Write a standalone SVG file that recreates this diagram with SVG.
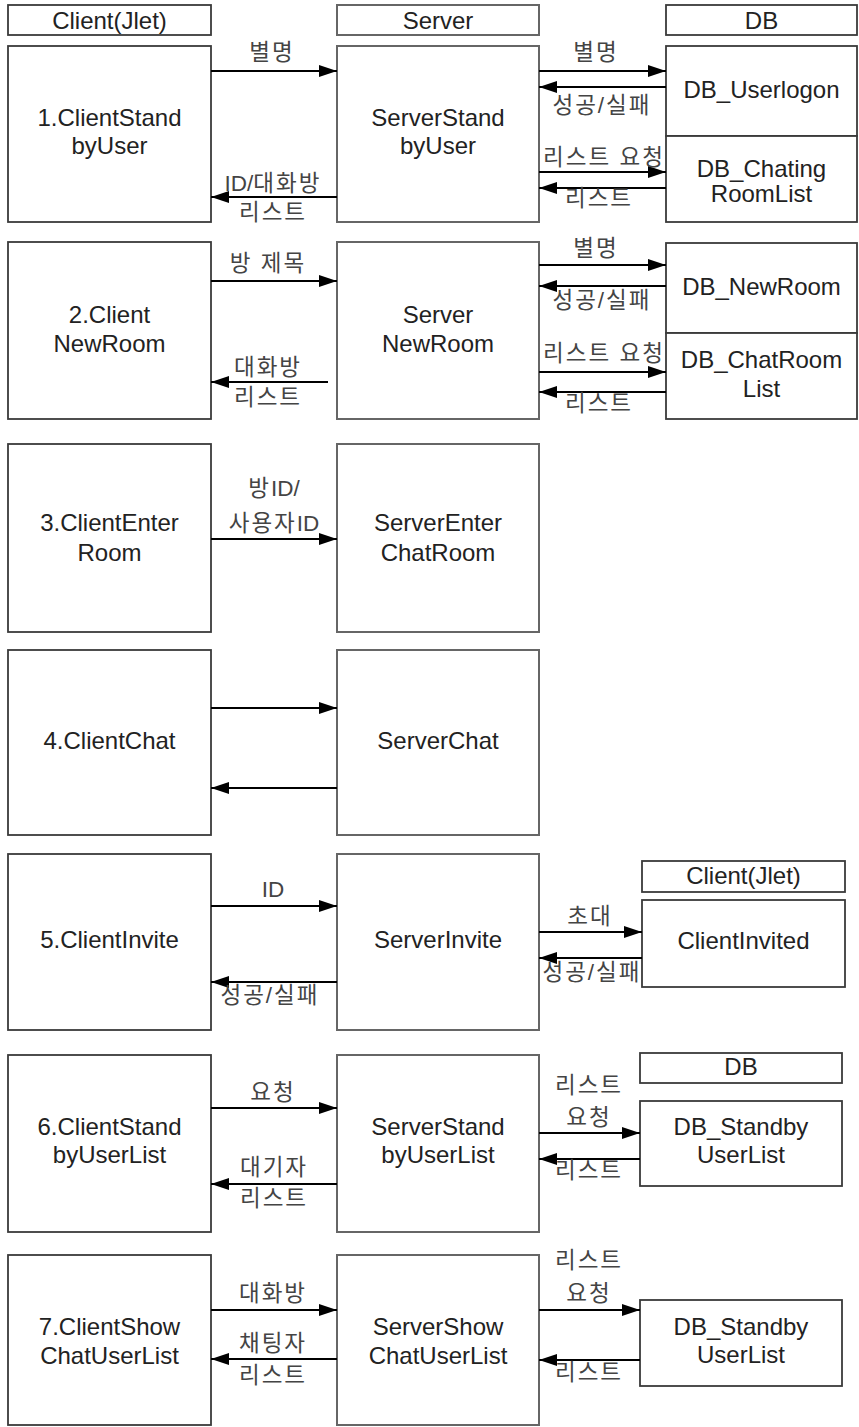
<svg xmlns="http://www.w3.org/2000/svg" width="859" height="1427" viewBox="0 0 859 1427">
  <style>
    .box { fill: #ffffff; stroke: #3a3a3a; stroke-width: 1.8; }
    .srv { fill: #ffffff; stroke: #666666; stroke-width: 2; }
    .name { font-family: "Liberation Sans", Arial, sans-serif; font-size: 24px; fill: #222222; text-anchor: middle; }
    .lbl { font-family: "Liberation Sans", "Noto Sans CJK KR", sans-serif; font-size: 22.5px; letter-spacing: 2px; fill: #444444; text-anchor: middle; }
    .lat { letter-spacing: 0; }
    .flow { stroke: #000000; stroke-width: 2; fill: none; marker-end: url(#head); }
  </style>
  <defs>
    <marker id="head" markerUnits="userSpaceOnUse" markerWidth="18" markerHeight="12" refX="18" refY="6" orient="auto">
      <path d="M0,0 L18,6 L0,12 Z" fill="#000000"/>
    </marker>
  </defs>
  <rect x="0" y="0" width="859" height="1427" fill="#ffffff"/>

  <!-- column headers -->
  <g id="hdr-client">
    <rect class="box" x="8" y="5" width="203" height="30"/>
    <text class="name" x="109.5" y="29">Client(Jlet)</text>
  </g>
  <g id="hdr-server">
    <rect class="srv" x="337" y="5" width="202" height="30"/>
    <text class="name" x="438" y="29">Server</text>
  </g>
  <g id="hdr-db">
    <rect class="box" x="666" y="5" width="191" height="30"/>
    <text class="name" x="761.5" y="29">DB</text>
  </g>

  <!-- row 1 -->
  <g id="client-standby-user">
    <rect class="box" x="8" y="46" width="203" height="176"/>
    <text class="name" x="109.5" y="126">1.ClientStand</text>
    <text class="name" x="109.5" y="154">byUser</text>
  </g>
  <g id="server-standby-user">
    <rect class="srv" x="337" y="46" width="202" height="176"/>
    <text class="name" x="438" y="126">ServerStand</text>
    <text class="name" x="438" y="154">byUser</text>
  </g>
  <g id="db-userlogon">
    <rect class="box" x="666" y="46" width="191" height="90"/>
    <text class="name" x="761.5" y="98">DB_Userlogon</text>
  </g>
  <g id="db-chatingroomlist">
    <rect class="box" x="666" y="136" width="191" height="86"/>
    <text class="name" x="761.5" y="177">DB_Chating</text>
    <text class="name" x="761.5" y="202">RoomList</text>
  </g>

  <!-- row 2 -->
  <g id="client-newroom">
    <rect class="box" x="8" y="242" width="203" height="177"/>
    <text class="name" x="109.5" y="323">2.Client</text>
    <text class="name" x="109.5" y="352">NewRoom</text>
  </g>
  <g id="server-newroom">
    <rect class="srv" x="337" y="242" width="202" height="177"/>
    <text class="name" x="438" y="323">Server</text>
    <text class="name" x="438" y="352">NewRoom</text>
  </g>
  <g id="db-newroom">
    <rect class="box" x="666" y="243" width="191" height="90"/>
    <text class="name" x="761.5" y="295">DB_NewRoom</text>
  </g>
  <g id="db-chatroomlist">
    <rect class="box" x="666" y="333" width="191" height="86"/>
    <text class="name" x="761.5" y="368">DB_ChatRoom</text>
    <text class="name" x="761.5" y="397">List</text>
  </g>

  <!-- row 3 -->
  <g id="client-enter-room">
    <rect class="box" x="8" y="444" width="203" height="188"/>
    <text class="name" x="109.5" y="531">3.ClientEnter</text>
    <text class="name" x="109.5" y="561">Room</text>
  </g>
  <g id="server-enter-chatroom">
    <rect class="srv" x="337" y="444" width="202" height="188"/>
    <text class="name" x="438" y="531">ServerEnter</text>
    <text class="name" x="438" y="561">ChatRoom</text>
  </g>

  <!-- row 4 -->
  <g id="client-chat">
    <rect class="box" x="8" y="650" width="203" height="185"/>
    <text class="name" x="109.5" y="749">4.ClientChat</text>
  </g>
  <g id="server-chat">
    <rect class="srv" x="337" y="650" width="202" height="185"/>
    <text class="name" x="438" y="749">ServerChat</text>
  </g>

  <!-- row 5 -->
  <g id="client-invite">
    <rect class="box" x="8" y="854" width="203" height="176"/>
    <text class="name" x="109.5" y="948">5.ClientInvite</text>
  </g>
  <g id="server-invite">
    <rect class="srv" x="337" y="854" width="202" height="176"/>
    <text class="name" x="438" y="948">ServerInvite</text>
  </g>
  <g id="hdr-client-invited">
    <rect class="box" x="642" y="861" width="203" height="31"/>
    <text class="name" x="743.5" y="884">Client(Jlet)</text>
  </g>
  <g id="client-invited">
    <rect class="box" x="642" y="900" width="203" height="87"/>
    <text class="name" x="743.5" y="949">ClientInvited</text>
  </g>

  <!-- row 6 -->
  <g id="client-standby-userlist">
    <rect class="box" x="8" y="1055" width="203" height="177"/>
    <text class="name" x="109.5" y="1135">6.ClientStand</text>
    <text class="name" x="109.5" y="1163">byUserList</text>
  </g>
  <g id="server-standby-userlist">
    <rect class="srv" x="337" y="1055" width="202" height="177"/>
    <text class="name" x="438" y="1135">ServerStand</text>
    <text class="name" x="438" y="1163">byUserList</text>
  </g>
  <g id="hdr-db-2">
    <rect class="box" x="640" y="1053" width="202" height="30"/>
    <text class="name" x="741" y="1075">DB</text>
  </g>
  <g id="db-standby-userlist-1">
    <rect class="box" x="640" y="1101" width="202" height="85"/>
    <text class="name" x="741" y="1135">DB_Standby</text>
    <text class="name" x="741" y="1163">UserList</text>
  </g>

  <!-- row 7 -->
  <g id="client-show-chatuserlist">
    <rect class="box" x="8" y="1255" width="203" height="170"/>
    <text class="name" x="109.5" y="1335">7.ClientShow</text>
    <text class="name" x="109.5" y="1364">ChatUserList</text>
  </g>
  <g id="server-show-chatuserlist">
    <rect class="srv" x="337" y="1255" width="202" height="170"/>
    <text class="name" x="438" y="1335">ServerShow</text>
    <text class="name" x="438" y="1364">ChatUserList</text>
  </g>
  <g id="db-standby-userlist-2">
    <rect class="box" x="640" y="1300" width="202" height="86"/>
    <text class="name" x="741" y="1335">DB_Standby</text>
    <text class="name" x="741" y="1363">UserList</text>
  </g>

  <!-- message connectors -->
  <g id="connectors">
    <!-- row 1 -->
    <line class="flow" x1="211" y1="71" x2="337" y2="71"/>
    <line class="flow" x1="337" y1="197" x2="211" y2="197"/>
    <line class="flow" x1="539" y1="71" x2="666" y2="71"/>
    <line class="flow" x1="666" y1="87" x2="539" y2="87"/>
    <line class="flow" x1="539" y1="172" x2="666" y2="172"/>
    <line class="flow" x1="666" y1="188" x2="539" y2="188"/>
    <!-- row 2 -->
    <line class="flow" x1="211" y1="281" x2="337" y2="281"/>
    <line class="flow" x1="328" y1="382" x2="211" y2="382"/>
    <line class="flow" x1="539" y1="265" x2="666" y2="265"/>
    <line class="flow" x1="666" y1="286" x2="539" y2="286"/>
    <line class="flow" x1="539" y1="372" x2="666" y2="372"/>
    <line class="flow" x1="666" y1="392" x2="539" y2="392"/>
    <!-- row 3 -->
    <line class="flow" x1="211" y1="539" x2="337" y2="539"/>
    <!-- row 4 -->
    <line class="flow" x1="211" y1="708" x2="337" y2="708"/>
    <line class="flow" x1="337" y1="788" x2="211" y2="788"/>
    <!-- row 5 -->
    <line class="flow" x1="211" y1="906" x2="337" y2="906"/>
    <line class="flow" x1="337" y1="982" x2="211" y2="982"/>
    <line class="flow" x1="539" y1="932" x2="642" y2="932"/>
    <line class="flow" x1="642" y1="958" x2="539" y2="958"/>
    <!-- row 6 -->
    <line class="flow" x1="211" y1="1108" x2="337" y2="1108"/>
    <line class="flow" x1="337" y1="1184" x2="211" y2="1184"/>
    <line class="flow" x1="539" y1="1133" x2="640" y2="1133"/>
    <line class="flow" x1="640" y1="1159" x2="539" y2="1159"/>
    <!-- row 7 -->
    <line class="flow" x1="211" y1="1310" x2="337" y2="1310"/>
    <line class="flow" x1="337" y1="1359" x2="211" y2="1359"/>
    <line class="flow" x1="539" y1="1310" x2="640" y2="1310"/>
    <line class="flow" x1="640" y1="1360" x2="539" y2="1360"/>

    <!-- connector labels -->
    <text class="lbl" x="272" y="60">별명</text>
    <text class="lbl" x="273" y="191"><tspan class="lat">ID/</tspan>대화방</text>
    <text class="lbl" x="273" y="220">리스트</text>
    <text class="lbl" x="596" y="60">별명</text>
    <text class="lbl" x="602" y="113">성공/실패</text>
    <text class="lbl" x="604" y="165">리스트 요청</text>
    <text class="lbl" x="599" y="206">리스트</text>

    <text class="lbl" x="268" y="271">방 제목</text>
    <text class="lbl" x="268" y="375">대화방</text>
    <text class="lbl" x="268" y="405">리스트</text>
    <text class="lbl" x="596" y="256">별명</text>
    <text class="lbl" x="602" y="308">성공/실패</text>
    <text class="lbl" x="604" y="361">리스트 요청</text>
    <text class="lbl" x="599" y="411">리스트</text>

    <text class="lbl" x="274" y="496">방<tspan class="lat">ID/</tspan></text>
    <text class="lbl" x="274" y="531">사용자<tspan class="lat">ID</tspan></text>

    <text class="lbl lat" x="273" y="897">ID</text>
    <text class="lbl" x="270" y="1003">성공/실패</text>
    <text class="lbl" x="590" y="924">초대</text>
    <text class="lbl" x="592" y="980">성공/실패</text>

    <text class="lbl" x="273" y="1100">요청</text>
    <text class="lbl" x="274" y="1175">대기자</text>
    <text class="lbl" x="274" y="1206">리스트</text>
    <text class="lbl" x="589" y="1093">리스트</text>
    <text class="lbl" x="589" y="1125">요청</text>
    <text class="lbl" x="589" y="1178">리스트</text>

    <text class="lbl" x="273" y="1301">대화방</text>
    <text class="lbl" x="273" y="1351">채팅자</text>
    <text class="lbl" x="273" y="1383">리스트</text>
    <text class="lbl" x="589" y="1268">리스트</text>
    <text class="lbl" x="589" y="1301">요청</text>
    <text class="lbl" x="589" y="1380">리스트</text>
  </g>
</svg>
